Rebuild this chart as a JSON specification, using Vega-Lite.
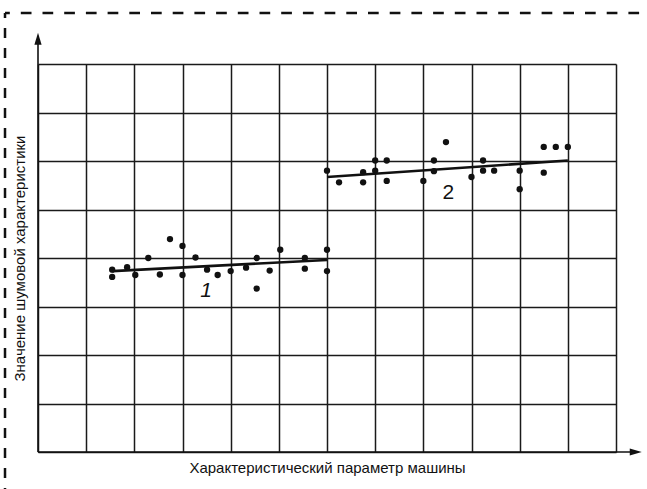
{
  "$schema": "https://vega.github.io/schema/vega-lite/v6.json",
  "width": 578,
  "height": 388,
  "autosize": "none",
  "padding": {"left": 38, "top": 64, "right": 31, "bottom": 37},
  "background": "white",
  "config": {
    "view": {"stroke": null},
    "font": "Liberation Sans"
  },
  "datasets": {
    "points": [
      {"x": 1.54, "y": 3.76, "series": "1"},
      {"x": 1.54, "y": 3.61, "series": "1"},
      {"x": 1.85, "y": 3.81, "series": "1"},
      {"x": 2.02, "y": 3.65, "series": "1"},
      {"x": 2.29, "y": 4.0, "series": "1"},
      {"x": 2.53, "y": 3.66, "series": "1"},
      {"x": 2.74, "y": 4.39, "series": "1"},
      {"x": 3.0, "y": 4.25, "series": "1"},
      {"x": 3.0, "y": 3.65, "series": "1"},
      {"x": 3.27, "y": 4.01, "series": "1"},
      {"x": 3.51, "y": 3.76, "series": "1"},
      {"x": 3.73, "y": 3.65, "series": "1"},
      {"x": 4.0, "y": 3.73, "series": "1"},
      {"x": 4.32, "y": 3.8, "series": "1"},
      {"x": 4.54, "y": 4.0, "series": "1"},
      {"x": 4.54, "y": 3.37, "series": "1"},
      {"x": 4.81, "y": 3.74, "series": "1"},
      {"x": 5.03, "y": 4.17, "series": "1"},
      {"x": 5.54, "y": 4.0, "series": "1"},
      {"x": 5.54, "y": 3.78, "series": "1"},
      {"x": 6.0, "y": 4.17, "series": "1"},
      {"x": 6.0, "y": 3.73, "series": "1"},
      {"x": 6.0, "y": 5.8, "series": "2"},
      {"x": 6.25, "y": 5.56, "series": "2"},
      {"x": 6.75, "y": 5.77, "series": "2"},
      {"x": 6.75, "y": 5.56, "series": "2"},
      {"x": 7.0, "y": 6.01, "series": "2"},
      {"x": 7.0, "y": 5.8, "series": "2"},
      {"x": 7.24, "y": 6.01, "series": "2"},
      {"x": 7.24, "y": 5.59, "series": "2"},
      {"x": 8.0, "y": 5.59, "series": "2"},
      {"x": 8.22, "y": 6.01, "series": "2"},
      {"x": 8.22, "y": 5.79, "series": "2"},
      {"x": 8.47, "y": 6.39, "series": "2"},
      {"x": 9.0, "y": 5.67, "series": "2"},
      {"x": 9.24, "y": 6.01, "series": "2"},
      {"x": 9.24, "y": 5.8, "series": "2"},
      {"x": 9.47, "y": 5.8, "series": "2"},
      {"x": 10.0, "y": 5.8, "series": "2"},
      {"x": 10.0, "y": 5.42, "series": "2"},
      {"x": 10.5, "y": 6.29, "series": "2"},
      {"x": 10.5, "y": 5.76, "series": "2"},
      {"x": 10.75, "y": 6.29, "series": "2"},
      {"x": 11.0, "y": 6.29, "series": "2"}
    ],
    "fits": [
      {"x": 1.54, "y": 3.73, "series": "1"},
      {"x": 6.0, "y": 3.96, "series": "1"},
      {"x": 6.0, "y": 5.67, "series": "2"},
      {"x": 11.0, "y": 6.01, "series": "2"}
    ]
  },
  "layer": [
    {
      "data": {"name": "points"},
      "mark": {"type": "point", "filled": true, "size": 40, "color": "#111", "opacity": 1},
      "encoding": {
        "x": {
          "field": "x", "type": "quantitative",
          "scale": {"domain": [0, 12], "nice": false, "zero": false},
          "axis": {
            "values": [0, 1, 2, 3, 4, 5, 6, 7, 8, 9, 10, 11, 12],
            "grid": true, "gridColor": "#1a1a1a", "gridWidth": 1.5, "gridOpacity": 1,
            "labels": false, "ticks": false, "domain": false,
            "title": "Характеристический параметр машины",
            "titleFont": "Liberation Sans", "titleFontSize": 15, "titleFontWeight": "normal",
            "titleColor": "#111", "titlePadding": 8
          }
        },
        "y": {
          "field": "y", "type": "quantitative",
          "scale": {"domain": [0, 8], "nice": false, "zero": false},
          "axis": {
            "values": [0, 1, 2, 3, 4, 5, 6, 7, 8],
            "grid": true, "gridColor": "#1a1a1a", "gridWidth": 1.5, "gridOpacity": 1,
            "labels": false, "ticks": false, "domain": false,
            "title": "Значение шумовой характеристики",
            "titleFont": "Liberation Sans", "titleFontSize": 15, "titleFontWeight": "normal",
            "titleColor": "#111", "titlePadding": 11
          }
        }
      }
    },
    {
      "data": {"name": "fits"},
      "mark": {"type": "line", "color": "#111", "strokeWidth": 2.6},
      "encoding": {
        "x": {"field": "x", "type": "quantitative"},
        "y": {"field": "y", "type": "quantitative"},
        "detail": {"field": "series"}
      }
    },
    {
      "data": {"values": [{"x": 3.49, "y": 3.32, "label": "1"}]},
      "mark": {"type": "text", "fontSize": 21, "fontStyle": "italic", "color": "#111", "font": "Liberation Sans"},
      "encoding": {
        "x": {"field": "x", "type": "quantitative"},
        "y": {"field": "y", "type": "quantitative"},
        "text": {"field": "label"}
      }
    },
    {
      "data": {"values": [{"x": 8.52, "y": 5.33, "label": "2"}]},
      "mark": {"type": "text", "fontSize": 21, "color": "#111", "font": "Liberation Sans"},
      "encoding": {
        "x": {"field": "x", "type": "quantitative"},
        "y": {"field": "y", "type": "quantitative"},
        "text": {"field": "label"}
      }
    },
    {
      "data": {"values": [{}]},
      "layer": [
        {
          "mark": {"type": "rule", "color": "#111", "strokeWidth": 1.6, "clip": false},
          "encoding": {"x": {"datum": 0}, "x2": {"datum": 12.45}, "y": {"datum": 0}}
        },
        {
          "mark": {"type": "rule", "color": "#111", "strokeWidth": 1.6, "clip": false},
          "encoding": {"y": {"datum": 0}, "y2": {"datum": 8.55}, "x": {"datum": 0}}
        },
        {
          "mark": {"type": "point", "filled": true, "shape": "M0,-1L0.6,1L-0.6,1Z", "size": 144, "color": "#111", "opacity": 1, "clip": false},
          "encoding": {"x": {"datum": 0}, "y": {"datum": 8.52}}
        },
        {
          "mark": {"type": "point", "filled": true, "shape": "M1,0L-1,0.6L-1,-0.6Z", "size": 144, "color": "#111", "opacity": 1, "clip": false},
          "encoding": {"x": {"datum": 12.41}, "y": {"datum": 0}}
        },
        {
          "mark": {"type": "rule", "color": "#111", "strokeWidth": 2.5, "strokeDash": [10.7, 11], "strokeDashOffset": 5.9, "clip": false},
          "encoding": {"x": {"datum": -0.685}, "x2": {"datum": 12.48}, "y": {"datum": 9.05}}
        },
        {
          "mark": {"type": "rule", "color": "#111", "strokeWidth": 2.5, "strokeDash": [10, 10], "strokeDashOffset": 5, "clip": false},
          "encoding": {"y": {"datum": 9.05}, "y2": {"datum": -0.8}, "x": {"datum": -0.685}}
        }
      ]
    }
  ]
}
